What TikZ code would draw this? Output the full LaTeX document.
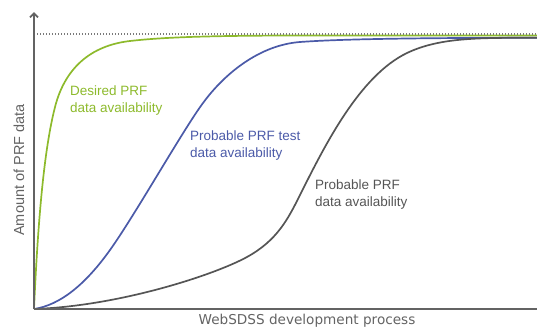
\documentclass[tikz,border=0pt]{standalone}
\usepackage{fontspec}
\setmainfont{Liberation Sans}
\newfontfamily\webfont{DejaVu Sans}
\usepackage{xcolor}
\usetikzlibrary{arrows.meta}
\definecolor{desiredgreen}{HTML}{8DBA2C}
\definecolor{testblue}{HTML}{4B5AA8}
\definecolor{prfgray}{HTML}{555555}
\definecolor{axisgray}{HTML}{636363}
\definecolor{dotgray}{HTML}{7A7A7A}

\begin{document}
\begin{tikzpicture}[x=1pt,y=-1pt,
    axis/.style={draw=axisgray,line width=1.8pt},
    curve/.style={line width=1.7pt,line join=round},
    curvetext/.style={align=left,anchor=north west,inner sep=0pt,font=\fontsize{13.5}{17}\selectfont}]
    \useasboundingbox (0,0) rectangle (537,327);
    \coordinate (origin) at (34,309);
    \coordinate (ytop) at (34,12);
    \coordinate (xend) at (537,309);
    \coordinate (fullstart) at (37,34);
    \coordinate (fullend) at (537,34);

    % curves
    \draw[curve,desiredgreen] (origin) .. controls (38,220) and (44,150) .. (55,107)
        .. controls (66,64) and (95,45) .. (130,41)
        .. controls (160,37.6) and (200,35.6) .. (300,35.5) -- (537,35.5);
    \draw[curve,testblue] (origin) .. controls (60,305) and (85,285) .. (110,250)
        .. controls (135,215) and (183,130) .. (203,103)
        .. controls (225,73) and (260,45) .. (300,42)
        .. controls (340,39) and (420,37.8) .. (537,37.8);
    \draw[curve,prfgray] (origin) .. controls (120,306) and (215,274.6) .. (247,257)
        .. controls (277.3,240.3) and (288,219) .. (300,195)
        .. controls (325,145) and (359.6,75.8) .. (407,53)
        .. controls (440,37.2) and (480,37.8) .. (537,37.8);

    % axes
    \draw[axis] (origin) -- (xend);
    \draw[axis,-{Straight Barb[length=4pt,width=8pt]}] (origin) -- (ytop);
    \draw[dotgray,line width=1.4pt,dash pattern=on 1.4pt off 1.6pt] (fullstart) -- (fullend);

    % labels
    \node[curvetext,text=desiredgreen] (desired) at (70,86) {Desired PRF\\data availability};
    \node[curvetext,text=testblue] (testdata) at (190,131) {Probable PRF test\\data availability};
    \node[curvetext,text=prfgray] (prfdata) at (315,180) {Probable PRF\\data availability};
    \node[font=\webfont\fontsize{13.6}{15}\selectfont,text=axisgray] (xlabel) at (307,321) {WebSDSS development process};
    \node[rotate=90,font=\fontsize{14.5}{16}\selectfont,text=axisgray] (ylabel) at (19,170) {Amount of PRF data};
\end{tikzpicture}
\end{document}
